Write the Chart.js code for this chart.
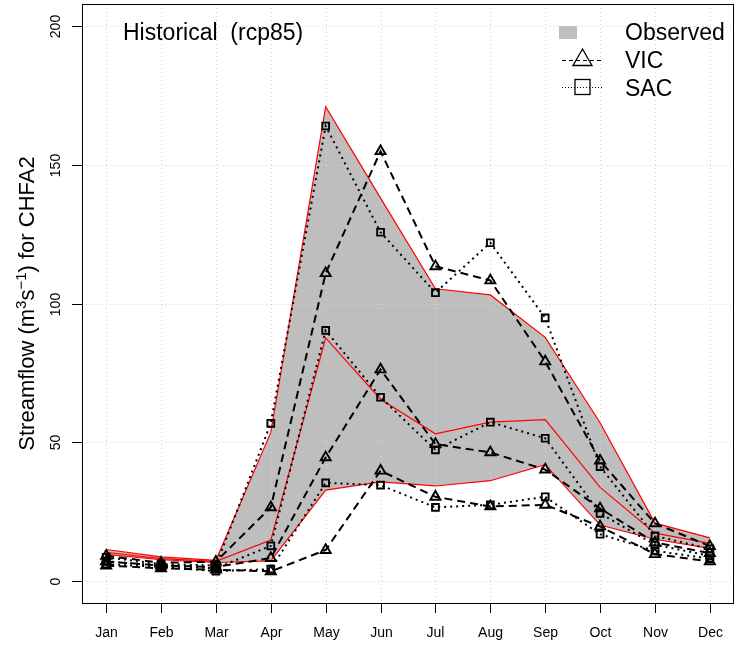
<!DOCTYPE html>
<html lang="en">
<head>
<meta charset="UTF-8">
<title>Streamflow CHFA2</title>
<script src="https://cdn.jsdelivr.net/npm/chart.js@4.4.1/dist/chart.umd.min.js"></script>
<style>
  html, body { margin: 0; padding: 0; background: #fff; overflow: hidden; }
  .wrap { width: 736px; height: 646px; position: relative; }
</style>
</head>
<body>
<div class="wrap"><canvas id="flow"></canvas></div>
<script>
// monthly streamflow, m3/s
const months = ['Jan', 'Feb', 'Mar', 'Apr', 'May', 'Jun', 'Jul', 'Aug', 'Sep', 'Oct', 'Nov', 'Dec'];
const yTicks = [0, 50, 100, 150, 200];

const obsUpper  = [11.3, 8.6, 7.4, 53.5, 171.0, 138.0, 105.3, 103.1, 87.8, 57.0, 20.8, 15.5];
const obsMedian = [10.3, 8.0, 7.0, 14.7, 87.6, 65.5, 53.0, 57.2, 58.1, 33.7, 17.2, 13.5];
const obsLower  = [9.5, 7.6, 6.6, 7.2, 32.7, 35.7, 34.2, 36.1, 41.9, 20.1, 15.0, 11.7];

const vicUpper  = [9.0, 6.5, 6.9, 26.5, 110.9, 154.9, 113.4, 108.3, 79.1, 43.3, 20.7, 12.5];
const vicMedian = [7.0, 5.5, 5.0, 8.2, 44.5, 76.2, 49.3, 46.3, 40.1, 26.1, 13.8, 10.0];
const vicLower  = [5.5, 4.5, 4.0, 3.4, 11.1, 39.7, 30.3, 26.8, 27.4, 19.6, 9.6, 7.0];

const sacUpper  = [8.5, 6.0, 5.5, 56.8, 164.0, 125.7, 103.9, 121.9, 94.8, 41.2, 16.2, 11.5];
const sacMedian = [7.0, 5.5, 4.5, 12.6, 90.3, 66.2, 47.2, 57.2, 51.4, 24.3, 13.0, 9.0];
const sacLower  = [6.0, 5.0, 3.5, 4.2, 35.3, 34.5, 26.5, 27.4, 30.3, 16.8, 10.8, 8.0];

const FONT = '"Liberation Sans", Arial, Helvetica, sans-serif';
const pts = arr => arr.map((v, i) => ({ x: i + 1, y: v }));

function obsLine(values, fill) {
    return {
        data: pts(values),
        borderColor: '#FF0000',
        borderWidth: 1.2,
        backgroundColor: '#BEBEBE',
        pointRadius: 0,
        tension: 0,
        fill: fill,
        order: 3
    };
}

function modelLine(values, dash, style, radius) {
    return {
        data: pts(values),
        borderColor: '#000',
        borderWidth: 2,
        borderDash: dash,
        pointStyle: style,
        pointRadius: radius,
        pointBorderWidth: 1.9,
        pointBorderColor: '#000',
        pointBackgroundColor: 'rgba(0,0,0,0)',
        tension: 0,
        fill: false,
        order: 1
    };
}

function trianglePath(ctx, cx, cy, r) {
    const s = Math.sin(Math.PI / 3) * r;
    ctx.beginPath();
    ctx.moveTo(cx, cy - r);
    ctx.lineTo(cx + s, cy + r / 2);
    ctx.lineTo(cx - s, cy + r / 2);
    ctx.closePath();
}

// grid, box, axes, annotations and legend drawn R-style
const frame = {
    id: 'frame',
    beforeDatasetsDraw(chart) {
        const { ctx, chartArea: a, scales: { x, y } } = chart;
        ctx.save();
        ctx.strokeStyle = '#D3D3D3';
        ctx.lineWidth = 1;
        ctx.setLineDash([1, 3]);
        months.forEach((m, i) => {
            const px = Math.round(x.getPixelForValue(i + 1)) + 0.5;
            ctx.beginPath();
            ctx.moveTo(px, a.top);
            ctx.lineTo(px, a.bottom);
            ctx.stroke();
        });
        yTicks.forEach(v => {
            const py = Math.round(y.getPixelForValue(v)) + 0.5;
            ctx.beginPath();
            ctx.moveTo(a.left, py);
            ctx.lineTo(a.right, py);
            ctx.stroke();
        });
        ctx.restore();
    },
    afterDraw(chart) {
        const { ctx, chartArea: a, scales: { x, y } } = chart;
        ctx.save();
        ctx.strokeStyle = '#000';
        ctx.fillStyle = '#000';
        ctx.lineWidth = 1;
        ctx.setLineDash([]);

        // box
        ctx.strokeRect(a.left + 0.5, a.top + 0.5, a.right - a.left - 1, a.bottom - a.top);

        // x axis
        ctx.font = '14px ' + FONT;
        ctx.textAlign = 'center';
        ctx.textBaseline = 'alphabetic';
        months.forEach((m, i) => {
            const px = Math.round(x.getPixelForValue(i + 1)) + 0.5;
            ctx.beginPath();
            ctx.moveTo(px, a.bottom);
            ctx.lineTo(px, a.bottom + 10);
            ctx.stroke();
            ctx.fillText(m, px, 637);
        });

        // y axis, labels turned upright
        yTicks.forEach(v => {
            const py = Math.round(y.getPixelForValue(v)) + 0.5;
            ctx.beginPath();
            ctx.moveTo(a.left - 10, py);
            ctx.lineTo(a.left, py);
            ctx.stroke();
            ctx.save();
            ctx.translate(60, py);
            ctx.rotate(-Math.PI / 2);
            ctx.fillText(String(v), 0, 0);
            ctx.restore();
        });

        // y title with superscripts
        const parts = [
            ['Streamflow (m', 0], ['3', 1], ['s', 0], ['\u22121', 1], [') for CHFA2', 0]
        ];
        const big = '22px ' + FONT, small = '15px ' + FONT;
        let total = 0;
        parts.forEach(p => { ctx.font = p[1] ? small : big; total += ctx.measureText(p[0]).width; });
        ctx.save();
        ctx.translate(34, (a.top + a.bottom) / 2);
        ctx.rotate(-Math.PI / 2);
        ctx.textAlign = 'left';
        let cx = -total / 2;
        parts.forEach(p => {
            ctx.font = p[1] ? small : big;
            ctx.fillText(p[0], cx, p[1] ? -8 : 0);
            cx += ctx.measureText(p[0]).width;
        });
        ctx.restore();

        // panel title
        ctx.font = '23px ' + FONT;
        ctx.textAlign = 'left';
        ctx.fillText('Historical  (rcp85)', 123, 40);

        // legend
        const lx0 = 562, lx1 = 603, mx = 582.5, tx = 625;
        ctx.fillStyle = '#BEBEBE';
        ctx.fillRect(559, 26, 18, 13);

        ctx.lineWidth = 1;
        ctx.setLineDash([4, 3]);
        ctx.beginPath(); ctx.moveTo(lx0, 60.5); ctx.lineTo(lx1, 60.5); ctx.stroke();
        ctx.setLineDash([1, 2]);
        ctx.beginPath(); ctx.moveTo(lx0, 87.5); ctx.lineTo(lx1, 87.5); ctx.stroke();

        ctx.setLineDash([]);
        ctx.lineWidth = 1.3;
        trianglePath(ctx, mx, 60, 11);
        ctx.stroke();
        ctx.strokeRect(mx - 7.5, 79.5, 15, 15);

        ctx.fillStyle = '#000';
        ctx.font = '23px ' + FONT;
        ctx.fillText('Observed', tx, 40);
        ctx.fillText('VIC', tx, 68);
        ctx.fillText('SAC', tx, 96);
        ctx.restore();
    }
};

new Chart(document.getElementById('flow'), {
    type: 'line',
    data: {
        datasets: [
            obsLine(obsUpper, { target: 2 }),
            obsLine(obsMedian, false),
            obsLine(obsLower, false),
            modelLine(vicUpper, [8, 5], 'triangle', 5.8),
            modelLine(vicMedian, [8, 5], 'triangle', 5.8),
            modelLine(vicLower, [8, 5], 'triangle', 5.8),
            modelLine(sacUpper, [2, 4], 'rect', 4.8),
            modelLine(sacMedian, [2, 4], 'rect', 4.8),
            modelLine(sacLower, [2, 4], 'rect', 4.8)
        ]
    },
    options: {
        responsive: true,
        maintainAspectRatio: false,
        animation: false,
        devicePixelRatio: 1,
        layout: { autoPadding: false, padding: { left: 82, top: 4, right: 2, bottom: 43 } },
        scales: {
            x: { type: 'linear', min: 0.56, max: 12.44, display: false },
            y: { type: 'linear', min: -8, max: 208, display: false }
        },
        plugins: {
            legend: { display: false },
            tooltip: { enabled: false },
            filler: { drawTime: 'beforeDatasetsDraw' }
        }
    },
    plugins: [frame]
});
</script>
</body>
</html>
